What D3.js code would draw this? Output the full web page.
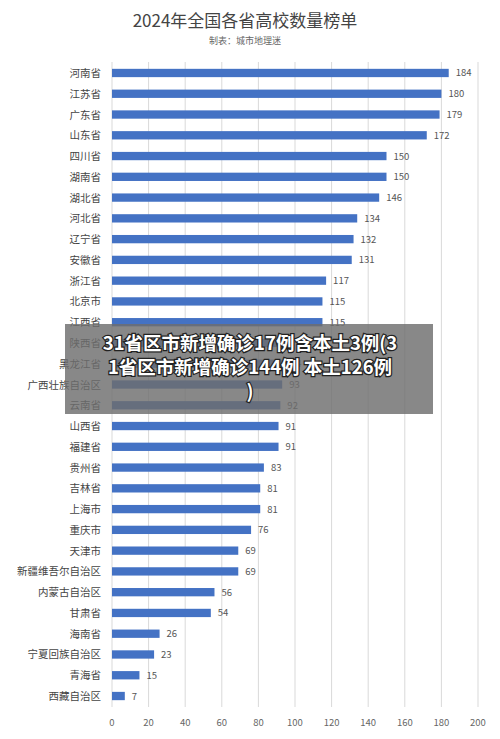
<!DOCTYPE html>
<html><head><meta charset="utf-8">
<script src="https://cdn.jsdelivr.net/npm/d3@7"></script>
<style>body{margin:0;background:#fff;font-family:"Noto Sans CJK SC","Noto Sans",sans-serif}</style>
</head><body>
<script>
const categories = ["河南省","江苏省","广东省","山东省","四川省","湖南省","湖北省","河北省","辽宁省","安徽省","浙江省","北京市","江西省","陕西省","黑龙江省","广西壮族自治区","云南省","山西省","福建省","贵州省","吉林省","上海市","重庆市","天津市","新疆维吾尔自治区","内蒙古自治区","甘肃省","海南省","宁夏回族自治区","青海省","西藏自治区"];
const values = [184,180,179,172,150,150,146,134,132,131,117,115,115,97,94,93,92,91,91,83,81,81,76,69,69,56,54,26,23,15,7];
const ticks = [0,20,40,60,80,100,120,140,160,180,200];

const W=500,H=739;
const svg=d3.select("body").append("svg").attr("width",W).attr("height",H);
svg.append("rect").attr("width",W).attr("height",H).attr("fill","#fff");
const x=d3.scaleLinear().domain([0,200]).range([112,478]);
const y=d3.scaleBand().domain(categories).range([62.6,706.4]).paddingInner(0.6).paddingOuter(0.3);

svg.append("text").attr("x",245).attr("y",27).attr("text-anchor","middle").attr("font-size",17).attr("fill","#444").text("2024年全国各省高校数量榜单");
svg.append("text").attr("x",245).attr("y",44).attr("text-anchor","middle").attr("font-size",9).attr("fill","#666").text("制表：城市地理迷");

svg.append("g").selectAll("line").data(ticks).join("line")
 .attr("x1",d=>x(d)).attr("x2",d=>x(d)).attr("y1",62).attr("y2",707)
 .attr("stroke","#d9d9d9").attr("stroke-width",1);

svg.append("g").selectAll("rect").data(categories).join("rect")
 .attr("x",x(0)).attr("y",d=>y(d)).attr("height",y.bandwidth())
 .attr("width",(d,i)=>x(values[i])-x(0)).attr("fill","#4472c4");

svg.append("g").selectAll("text").data(categories).join("text")
 .attr("x",(d,i)=>x(values[i])+7).attr("y",d=>y(d)+y.bandwidth()/2+3.5)
 .attr("font-size",9.5).attr("fill","#555").text((d,i)=>values[i]);

svg.append("g").selectAll("text").data(categories).join("text")
 .attr("x",101).attr("y",d=>y(d)+y.bandwidth()/2+4)
 .attr("text-anchor","end").attr("font-size",10.5).attr("fill","#444").text(d=>d);

svg.append("g").selectAll("text").data(ticks).join("text")
 .attr("x",d=>x(d)).attr("y",726).attr("text-anchor","middle")
 .attr("font-size",9.5).attr("fill","#666").text(d=>d);

// overlay caption
svg.append("rect").attr("x",65).attr("y",324).attr("width",368).attr("height",90).attr("fill","rgba(110,110,110,0.82)");
const lines=["31省区市新增确诊17例含本土3例(3","1省区市新增确诊144例 本土126例",")"];
const g=svg.append("g").attr("font-size",18.5).attr("font-weight","bold").attr("text-anchor","middle");
lines.forEach((t,i)=>{
 g.append("text").attr("x",250).attr("y",350+i*24).attr("fill","#fff")
  .attr("stroke","#222").attr("stroke-width",2.5).attr("paint-order","stroke").text(t);
});
</script>
</body></html>
